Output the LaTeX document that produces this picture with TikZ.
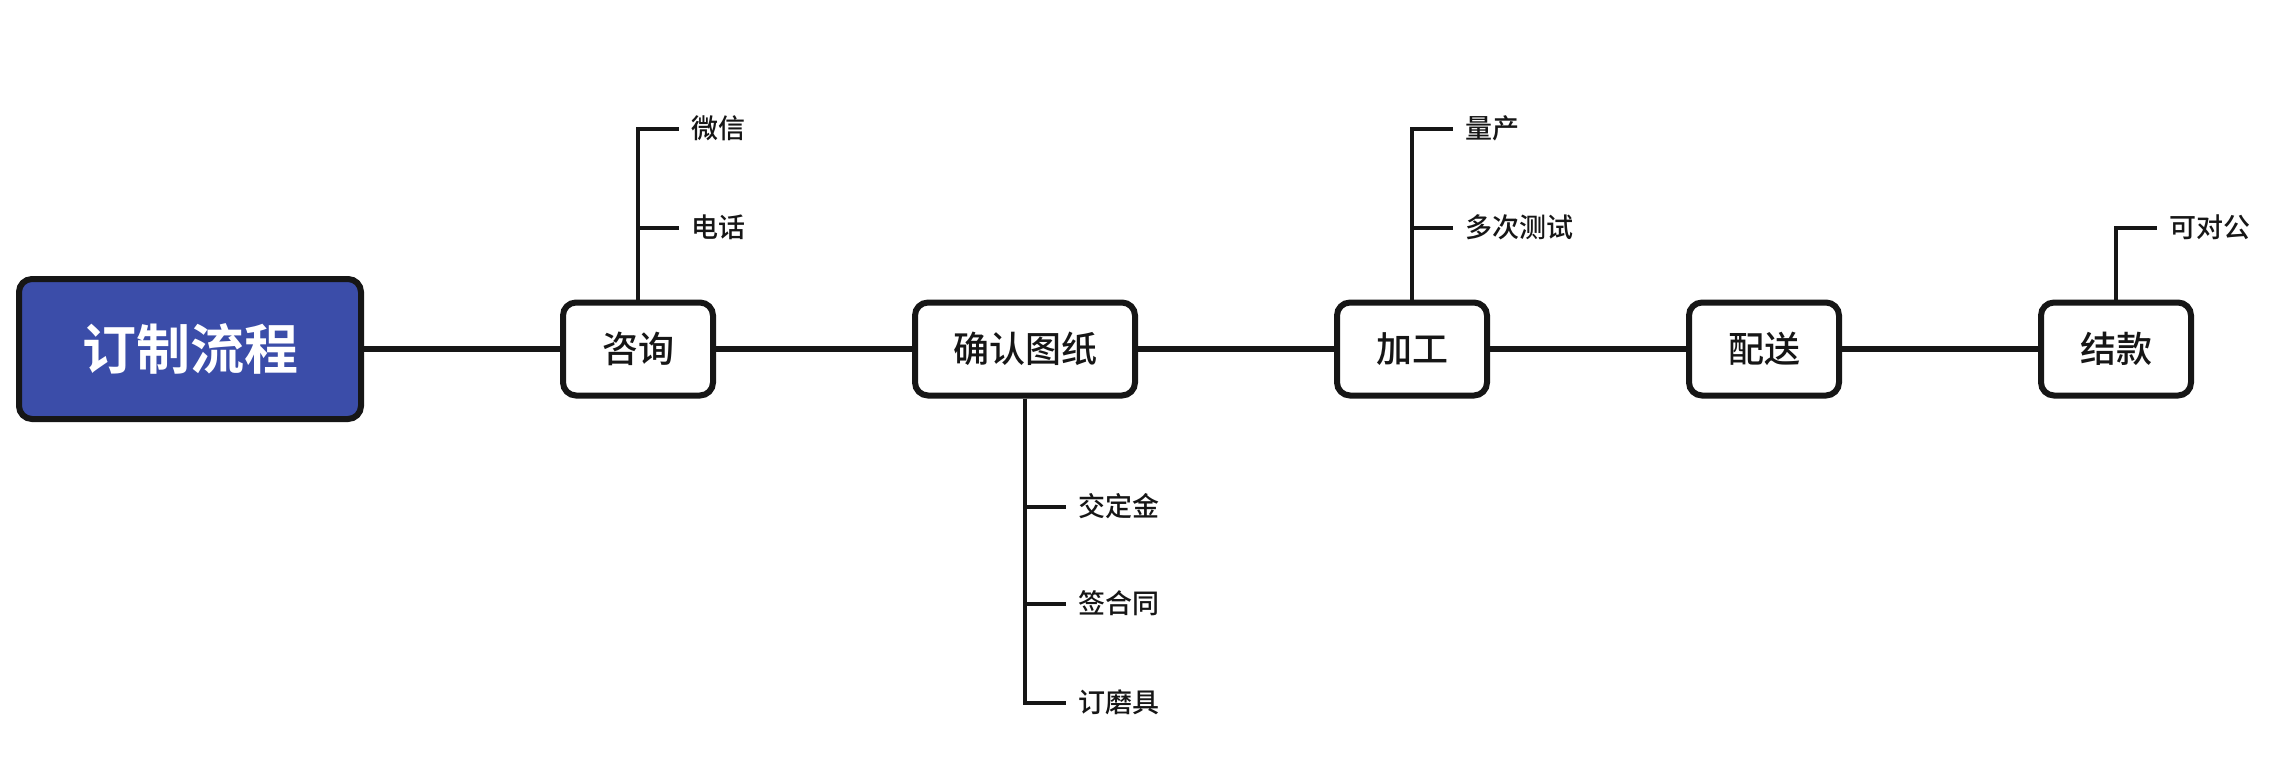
\documentclass[tikz,border=0pt]{standalone}
\usepackage{fontspec}
\setmainfont{Noto Sans CJK SC}[BoldFont={Noto Sans CJK SC Bold}]
\newfontfamily\cjkmedium{Noto Sans CJK SC Medium}
\usetikzlibrary{positioning}
\definecolor{rootblue}{RGB}{59,77,169}
\definecolor{inkline}{RGB}{22,22,22}

\begin{document}
\begin{tikzpicture}[x=1pt,y=1pt,
  rootbox/.style={draw=inkline, fill=rootblue, line width=6pt, rounded corners=13pt,
    minimum width=342pt, minimum height=140pt, text=white,
    font=\fontsize{54}{60}\selectfont\bfseries},
  stagebox/.style={draw=inkline, fill=white, line width=6pt, rounded corners=13pt,
    minimum width=150pt, minimum height=93pt, text=inkline,
    font=\fontsize{36}{40}\selectfont\cjkmedium},
  leaf/.style={anchor=west, inner xsep=12pt, text=inkline,
    font=\fontsize{27}{30}\selectfont\cjkmedium},
  trunk/.style={draw=inkline, line width=6pt},
  twig/.style={draw=inkline, line width=4pt}]
\fill[white] (0,0) rectangle (2270,-766); % page size
% main stages
\node[rootbox] (root) at (190,-349) {订制流程};
\node[stagebox, right=196pt of root] (zixun) {咨询};
\node[stagebox, minimum width=220pt, right=196pt of zixun] (tuzhi) {确认图纸};
\node[stagebox, right=196pt of tuzhi] (jiagong) {加工};
\node[stagebox, right=196pt of jiagong] (peisong) {配送};
\node[stagebox, right=196pt of peisong] (jiekuan) {结款};
\draw[trunk] (root) -- (zixun);
\draw[trunk] (zixun) -- (tuzhi);
\draw[trunk] (tuzhi) -- (jiagong);
\draw[trunk] (jiagong) -- (peisong);
\draw[trunk] (peisong) -- (jiekuan);
% sub items
\node[leaf] (weixin) at ([xshift=41pt, yshift=171pt]zixun.north) {微信};
\node[leaf] (dianhua) at ([xshift=41pt, yshift=72pt]zixun.north) {电话};
\node[leaf] (dingjin) at ([xshift=41pt, yshift=-108pt]tuzhi.south) {交定金};
\node[leaf] (hetong) at ([xshift=41pt, yshift=-205pt]tuzhi.south) {签合同};
\node[leaf] (moju) at ([xshift=41pt, yshift=-304pt]tuzhi.south) {订磨具};
\node[leaf] (liangchan) at ([xshift=41pt, yshift=171pt]jiagong.north) {量产};
\node[leaf] (ceshi) at ([xshift=41pt, yshift=72pt]jiagong.north) {多次测试};
\node[leaf] (duigong) at ([xshift=41pt, yshift=72pt]jiekuan.north) {可对公};
\draw[twig] (zixun.north) |- (weixin.west);
\draw[twig] (zixun.north) |- (dianhua.west);
\draw[twig] (tuzhi.south) |- (moju.west);
\draw[twig] (tuzhi.south) |- (hetong.west);
\draw[twig] (tuzhi.south) |- (dingjin.west);
\draw[twig] (jiagong.north) |- (liangchan.west);
\draw[twig] (jiagong.north) |- (ceshi.west);
\draw[twig] (jiekuan.north) |- (duigong.west);
\end{tikzpicture}
\end{document}
